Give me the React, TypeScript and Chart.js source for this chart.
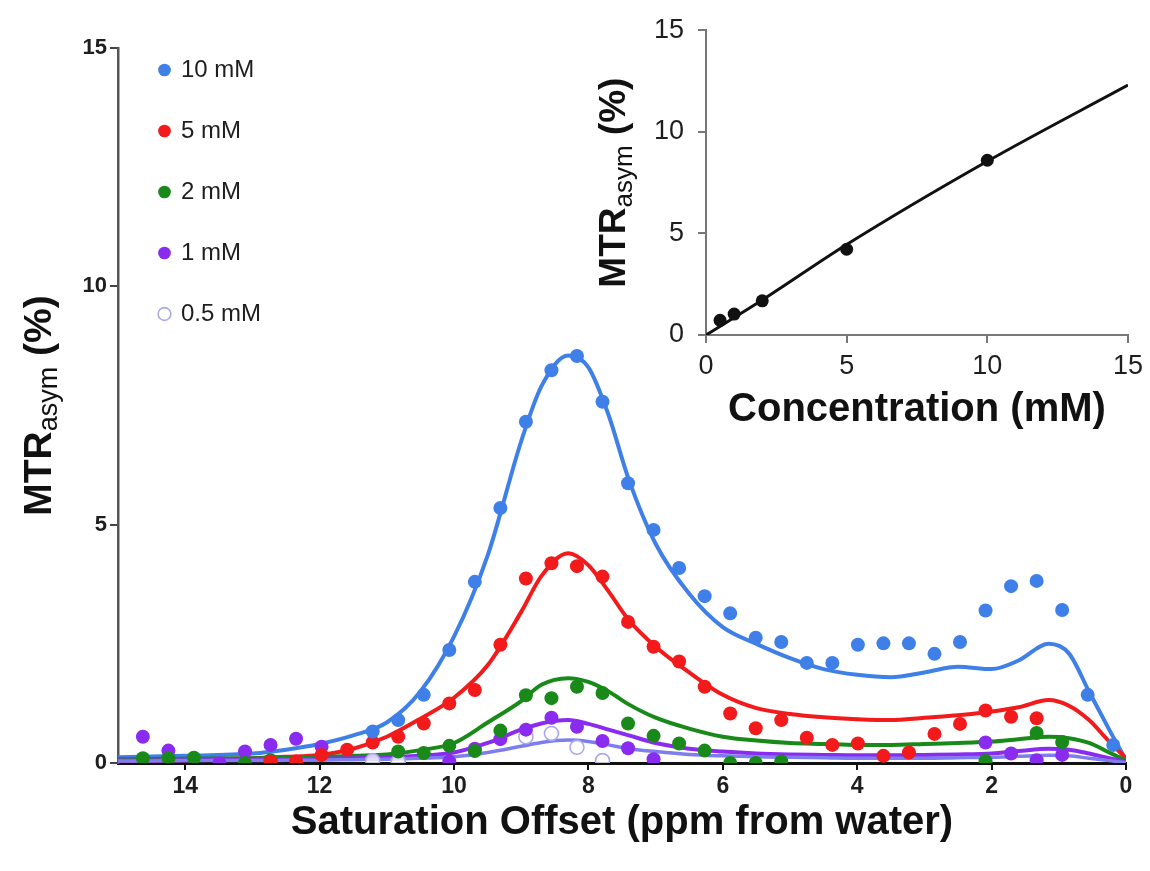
import React, { useEffect, useRef } from 'react';
import { Chart, registerables } from 'chart.js';

Chart.register(...registerables);

const FONT = "'Liberation Sans', Arial, Helvetica, sans-serif";

// ---------- main chart data ----------
// saturation offsets (ppm from water) of the measured points
const offsets = [0.19, 0.57, 0.95, 1.33, 1.71, 2.09, 2.47, 2.85, 3.23, 3.61,
  3.99, 4.37, 4.75, 5.13, 5.51, 5.89, 6.27, 6.65, 7.03, 7.41,
  7.79, 8.17, 8.55, 8.93, 9.31, 9.69, 10.07, 10.45, 10.83, 11.21,
  11.59, 11.97, 12.35, 12.73, 13.11, 13.49, 13.87, 14.25, 14.63];

const mtr10mM = [0.38, 1.43, 3.21, 3.82, 3.71, 3.2, 2.54, 2.29, 2.51, 2.51,
  2.48, 2.1, 2.1, 2.54, 2.63, 3.14, 3.5, 4.09, 4.89, 5.87,
  7.58, 8.54, 8.24, 7.16, 5.35, 3.8, 2.37, 1.43, 0.9, 0.66,
  null, null, null, null, null, null, null, null, null];

const mtr5mM = [null, null, null, 0.94, 0.97, 1.1, 0.82, 0.61, 0.22, 0.15,
  0.41, 0.38, 0.53, 0.9, 0.73, 1.04, 1.6, 2.13, 2.44, 2.96,
  3.91, 4.13, 4.19, 3.87, 2.48, 1.53, 1.25, 0.83, 0.55, 0.43,
  0.28, 0.17, 0.03, 0.03, null, null, null, null, null];

const mtr2mM = [null, null, 0.44, 0.63, null, 0.04, null, null, null, null,
  null, null, null, 0.03, 0.0, 0.0, 0.26, 0.41, 0.57, 0.83,
  1.47, 1.6, 1.36, 1.42, 0.68, 0.25, 0.36, 0.21, 0.24, null,
  null, null, null, 0.06, 0.0, null, 0.11, 0.1, 0.1];

const mtr1mM = [null, null, 0.17, 0.06, 0.2, 0.43, null, null, null, null,
  null, null, null, null, null, null, null, null, 0.08, 0.31,
  0.46, 0.76, 0.95, 0.7, 0.5, 0.3, 0.03, null, null, null,
  null, 0.34, 0.51, 0.38, 0.24, 0.0, null, 0.26, 0.55];

const mtr05mM = [null, null, null, null, null, null, null, null, null, null,
  null, null, null, null, null, null, null, null, null, null,
  0.05, 0.33, 0.62, 0.55, null, null, null, null, 0.03, 0.05,
  null, null, null, null, null, null, null, null, null];

// fitted curves
const fitOffsets = [15, 14, 13, 12.5, 12, 11.5, 11, 10.5, 10, 9.5,
  9, 8.7, 8.3, 8.0, 7.7, 7.4, 7.0, 6.5, 6.0, 5.5,
  5.0, 4.5, 4.0, 3.5, 3.0, 2.5, 2.0, 1.6, 1.15, 0.85,
  0.55, 0.25, 0];

const fit10mM = [0.12, 0.15, 0.2, 0.28, 0.4, 0.58, 0.85, 1.5, 2.65, 4.35,
  6.75, 7.9, 8.55, 8.3, 7.3, 5.95, 4.6, 3.55, 2.85, 2.5,
  2.2, 1.97, 1.85, 1.8, 1.9, 2.02, 1.97, 2.15, 2.5, 2.3,
  1.5, 0.7, 0.06];

const fit5mM = [0.04, 0.06, 0.1, 0.13, 0.17, 0.3, 0.55, 0.93, 1.37, 2.05,
  3.17, 3.92, 4.4, 4.15, 3.6, 3.0, 2.44, 1.9, 1.43, 1.15,
  1.03, 0.96, 0.92, 0.9, 0.95, 1.0, 1.08, 1.17, 1.32, 1.2,
  0.9, 0.45, 0.1];

const fit2mM = [0.08, 0.09, 0.1, 0.11, 0.12, 0.15, 0.18, 0.27, 0.42, 0.85,
  1.3, 1.64, 1.78, 1.7, 1.5, 1.23, 0.95, 0.72, 0.55, 0.47,
  0.42, 0.4, 0.38, 0.38, 0.4, 0.42, 0.45, 0.5, 0.55, 0.52,
  0.42, 0.22, 0.05];

const fit1mM = [0.05, 0.06, 0.07, 0.08, 0.09, 0.1, 0.12, 0.15, 0.22, 0.42,
  0.7, 0.83, 0.9, 0.82, 0.7, 0.58, 0.42, 0.3, 0.24, 0.2,
  0.18, 0.17, 0.16, 0.16, 0.17, 0.18, 0.2, 0.25, 0.3, 0.28,
  0.2, 0.1, 0.02];

const fit05mM = [0.04, 0.05, 0.05, 0.06, 0.06, 0.07, 0.08, 0.1, 0.13, 0.22,
  0.35, 0.43, 0.48, 0.45, 0.38, 0.3, 0.24, 0.18, 0.15, 0.13,
  0.12, 0.11, 0.1, 0.1, 0.1, 0.11, 0.12, 0.14, 0.16, 0.15,
  0.1, 0.05, 0.01];

const seriesLabels = ['10 mM', '5 mM', '2 mM', '1 mM', '0.5 mM'];
const xTickValues = [0, 2, 4, 6, 8, 10, 12, 14];
const yTickValues = [0, 5, 10, 15];

// ---------- inset data ----------
const concentrations = [0.5, 1, 2, 5, 10];
const concMTR = [0.72, 1.03, 1.68, 4.22, 8.6];
const concFitX = [0, 2, 5, 10, 15];
const concFitY = [0, 1.72, 4.45, 8.55, 12.3];
const insetTickValues = [0, 5, 10, 15];

// ---------- styles ----------
const pointColors = ['#3f7fe8', '#f21a1a', '#198a19', '#8a2cf0', '#a9aaea'];
const lineColors = ['#3f7fe8', '#f21a1a', '#198a19', '#8a2cf0', '#7d7df0'];

const toPoints = (xs: number[], ys: (number | null)[]) =>
  xs.map((x, i) => ({ x, y: ys[i] })).filter((p) => p.y !== null);

const subTitlePlugin = {
  id: 'subTitle',
  afterDraw(chart: any, _args: any, opts: any) {
    const { ctx, chartArea } = chart;
    const cx = chartArea.left - opts.offset;
    const cy = (chartArea.top + chartArea.bottom) / 2 + (opts.shift || 0);
    const mainFont = `bold ${opts.size}px ${FONT}`;
    const subFont = `${opts.subSize}px ${FONT}`;
    ctx.save();
    ctx.translate(cx, cy);
    ctx.rotate(-Math.PI / 2);
    ctx.font = mainFont;
    const w1 = ctx.measureText(opts.main).width;
    const w3 = ctx.measureText(opts.tail).width;
    ctx.font = subFont;
    const w2 = ctx.measureText(opts.sub).width;
    let x = -(w1 + w2 + w3) / 2;
    ctx.textBaseline = 'middle';
    ctx.textAlign = 'left';
    ctx.fillStyle = opts.color;
    ctx.font = mainFont;
    ctx.fillText(opts.main, x, 0);
    x += w1;
    ctx.font = subFont;
    ctx.fillText(opts.sub, x, opts.subShift);
    x += w2;
    ctx.font = mainFont;
    ctx.fillText(opts.tail, x, 0);
    ctx.restore();
  },
};

const legendShiftPlugin = {
  id: 'legendShift',
  afterLayout(chart: any, _args: any, opts: any) {
    const lg = chart.legend;
    if (!lg) return;
    const w = lg.right - lg.left;
    lg.left = chart.chartArea.left + opts.dx;
    lg.right = lg.left + w;
    lg.top = chart.chartArea.top + opts.dy;
    lg.bottom = chart.chartArea.bottom;
  },
};

export default function App() {
  const mainRef = useRef<HTMLCanvasElement>(null);
  const insetRef = useRef<HTMLCanvasElement>(null);

  useEffect(() => {
    const pointSeries = [mtr10mM, mtr5mM, mtr2mM, mtr1mM, mtr05mM];
    const fitSeries = [fit10mM, fit5mM, fit2mM, fit1mM, fit05mM];

    const pointSets = pointSeries.map((vals, k) => ({
      label: seriesLabels[k],
      data: toPoints(offsets, vals),
      backgroundColor: k === 4 ? 'rgba(255,255,255,0.75)' : pointColors[k],
      borderColor: pointColors[k],
      borderWidth: k === 4 ? 1.6 : 0,
      pointRadius: 7,
      pointHoverRadius: 7,
      showLine: false,
      order: k,
    }));

    const fitSets = fitSeries.map((vals, k) => ({
      label: seriesLabels[k] + ' fit',
      isFit: true,
      data: toPoints(fitOffsets, vals),
      borderColor: lineColors[k],
      backgroundColor: lineColors[k],
      borderWidth: k === 4 ? 3.5 : 4,
      pointRadius: 0,
      pointHoverRadius: 0,
      showLine: true,
      fill: false,
      cubicInterpolationMode: 'monotone',
      order: 9 - k,
    }));

    const main = new Chart(mainRef.current as HTMLCanvasElement, {
      type: 'scatter',
      data: { datasets: [...pointSets, ...fitSets] as any },
      options: {
        responsive: false,
        animation: false,
        devicePixelRatio: 1,
        layout: { padding: { top: 48, right: 24, left: 0, bottom: 0 } },
        plugins: {
          tooltip: { enabled: false },
          legend: {
            display: true,
            position: 'chartArea',
            align: 'start',
            labels: {
              usePointStyle: true,
              pointStyle: 'circle',
              boxWidth: 9,
              boxHeight: 9,
              padding: 37,
              color: '#1e1e1e',
              font: { family: FONT, size: 24 },
              filter: (item: any, data: any) => !data.datasets[item.datasetIndex].isFit,
            },
          },
          subTitle: {
            offset: 78, size: 39, subSize: 27, subShift: 10,
            main: 'MTR', sub: 'asym', tail: ' (%)', color: '#111',
          },
          legendShift: { dx: 5, dy: -27 },
        } as any,
        scales: {
          x: {
            type: 'linear',
            reverse: true,
            min: 0,
            max: 15,
            afterBuildTicks: (s: any) => { s.ticks = xTickValues.map((v) => ({ value: v })); },
            afterFit: (s: any) => { s.height = 108; },
            grid: { display: true, drawOnChartArea: false, drawTicks: true, tickLength: 7, lineWidth: 2, color: '#111' },
            border: { display: true, color: '#111', width: 3 },
            ticks: { color: '#1e1e1e', padding: 3, maxRotation: 0, autoSkip: false, font: { family: FONT, size: 23, weight: 'bold' } },
            title: {
              display: true,
              text: 'Saturation Offset (ppm from water)',
              color: '#111',
              font: { family: FONT, size: 40, weight: 'bold' },
              padding: { top: 0, bottom: 24 },
            },
          },
          y: {
            type: 'linear',
            min: 0,
            max: 15,
            afterBuildTicks: (s: any) => { s.ticks = yTickValues.map((v) => ({ value: v })); },
            afterFit: (s: any) => { s.width = 118; },
            grid: { display: true, drawOnChartArea: false, drawTicks: true, tickLength: 8, lineWidth: 2, color: '#444' },
            border: { display: true, color: '#555', width: 2.5 },
            ticks: { color: '#1e1e1e', padding: 3, autoSkip: false, font: { family: FONT, size: 22, weight: 'bold' } },
            title: { display: false },
          },
        },
      } as any,
      plugins: [subTitlePlugin, legendShiftPlugin] as any,
    });

    const inset = new Chart(insetRef.current as HTMLCanvasElement, {
      type: 'scatter',
      data: {
        datasets: [
          {
            label: 'MTRasym',
            data: toPoints(concentrations, concMTR),
            backgroundColor: '#111',
            borderWidth: 0,
            pointRadius: 6.5,
            pointHoverRadius: 6.5,
            showLine: false,
            order: 0,
          },
          {
            label: 'fit',
            data: toPoints(concFitX, concFitY),
            borderColor: '#111',
            borderWidth: 3,
            pointRadius: 0,
            pointHoverRadius: 0,
            showLine: true,
            fill: false,
            cubicInterpolationMode: 'monotone',
            order: 1,
          },
        ] as any,
      },
      options: {
        responsive: false,
        animation: false,
        devicePixelRatio: 1,
        layout: { padding: { top: 25, right: 21, left: 0, bottom: 0 } },
        plugins: {
          tooltip: { enabled: false },
          legend: { display: false },
          subTitle: {
            offset: 91, size: 37, subSize: 26, subShift: 10,
            main: 'MTR', sub: 'asym', tail: ' (%)', color: '#111',
          },
        } as any,
        scales: {
          x: {
            type: 'linear',
            min: 0,
            max: 15,
            afterBuildTicks: (s: any) => { s.ticks = insetTickValues.map((v) => ({ value: v })); },
            afterFit: (s: any) => { s.height = 115; },
            grid: { display: true, drawOnChartArea: false, drawTicks: true, tickLength: 8, lineWidth: 2, color: '#777' },
            border: { display: true, color: '#777', width: 2 },
            ticks: { color: '#1e1e1e', padding: 7, maxRotation: 0, autoSkip: false, font: { family: FONT, size: 27 } },
            title: {
              display: true,
              text: 'Concentration (mM)',
              color: '#111',
              font: { family: FONT, size: 40, weight: 'bold' },
              padding: { top: 0, bottom: 16 },
            },
          },
          y: {
            type: 'linear',
            min: 0,
            max: 15,
            afterBuildTicks: (s: any) => { s.ticks = insetTickValues.map((v) => ({ value: v })); },
            afterFit: (s: any) => { s.width = 146; },
            grid: { display: true, drawOnChartArea: false, drawTicks: true, tickLength: 8, lineWidth: 2, color: '#777' },
            border: { display: true, color: '#777', width: 2 },
            ticks: { color: '#1e1e1e', padding: 14, autoSkip: false, font: { family: FONT, size: 27 } },
            title: { display: false },
          },
        },
      } as any,
      plugins: [subTitlePlugin] as any,
    });

    return () => {
      main.destroy();
      inset.destroy();
    };
  }, []);

  return (
    <div style={{ position: 'fixed', left: 0, top: 0, width: 1150, height: 871, background: '#ffffff', overflow: 'hidden' }}>
      <canvas ref={mainRef} width={1150} height={871} style={{ position: 'absolute', left: 0, top: 0 }} />
      <canvas ref={insetRef} width={590} height={450} style={{ position: 'absolute', left: 560, top: 0 }} />
    </div>
  );
}
